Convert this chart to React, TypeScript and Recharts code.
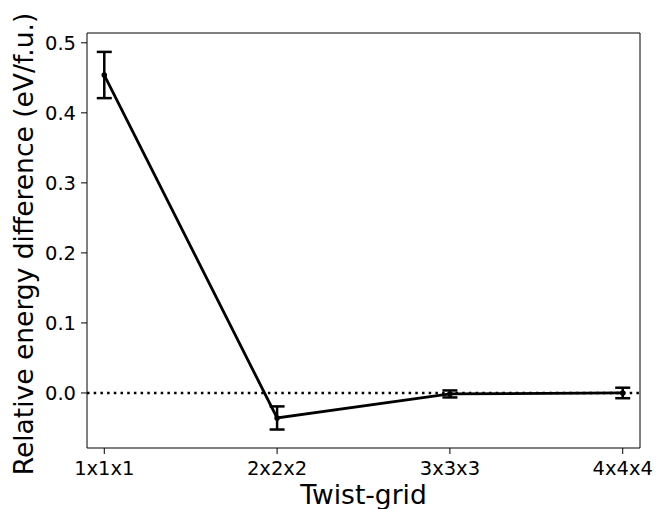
import React from 'react';
import { LineChart, Line, XAxis, YAxis, ErrorBar, ReferenceLine, Label } from 'recharts';

const categories = ['1x1x1', '2x2x2', '3x3x3', '4x4x4'];
const energies = [0.454, -0.0357, -0.0014, 0.0];
const errors = [0.033, 0.0165, 0.005, 0.0075];
const yTicks = [0, 0.1, 0.2, 0.3, 0.4, 0.5];
const xTicks = [0, 1, 2, 3];
const xDomain = [-0.1, 3.1];
const yDomain = [-0.0786, 0.514];

const data = categories.map((c, i) => ({ x: i, name: c, y: energies[i], err: errors[i] }));

const FONT = 'DejaVu Sans';

export default function App() {
  return (
    <div style={{ position: 'absolute', left: 0, top: 0, background: '#fff' }}>
      <LineChart
        width={657}
        height={509}
        data={data}
        margin={{ top: 33, right: 17, bottom: 0, left: 0 }}
      >
        <XAxis
          dataKey="x"
          type="number"
          domain={xDomain}
          ticks={xTicks}
          tickFormatter={(v: number) => categories[v]}
          height={61}
          tickSize={6}
          tickMargin={7}
          interval={0}
          axisLine={{ stroke: '#000', strokeWidth: 1 }}
          tickLine={{ stroke: '#000', strokeWidth: 1 }}
          tick={{ fill: '#000', fontSize: 19.5, fontFamily: FONT }}
        >
          <Label
            content={() => (
              <text x={363.5} y={504} textAnchor="middle" fontSize={26.5} fontFamily={FONT} fill="#000">
                Twist-grid
              </text>
            )}
          />
        </XAxis>
        <YAxis
          type="number"
          domain={yDomain}
          ticks={yTicks}
          tickFormatter={(v: number) => v.toFixed(1)}
          width={87}
          tickSize={6}
          tickMargin={5}
          interval={0}
          axisLine={{ stroke: '#000', strokeWidth: 1 }}
          tickLine={{ stroke: '#000', strokeWidth: 1 }}
          tick={{ fill: '#000', fontSize: 19.5, fontFamily: FONT }}
        >
          <Label
            content={() => (
              <text
                x={33}
                y={244}
                transform="rotate(-90, 33, 244)"
                textAnchor="middle"
                fontSize={26.5}
                fontFamily={FONT}
                fill="#000"
              >
                Relative energy difference (eV/f.u.)
              </text>
            )}
          />
        </YAxis>
        <ReferenceLine y={yDomain[1]} stroke="#000" strokeWidth={1} />
        <ReferenceLine x={xDomain[1]} stroke="#000" strokeWidth={1} />
        <ReferenceLine y={0} stroke="#000" strokeWidth={2.5} strokeDasharray="2.5 4.2" />
        <Line
          dataKey="y"
          stroke="#000"
          strokeWidth={2.8}
          dot={{ r: 2.8, fill: '#000', stroke: '#000', strokeWidth: 0 }}
          isAnimationActive={false}
        >
          <ErrorBar dataKey="err" width={7.5} stroke="#000" strokeWidth={2.5} direction="y" />
        </Line>
      </LineChart>
    </div>
  );
}
